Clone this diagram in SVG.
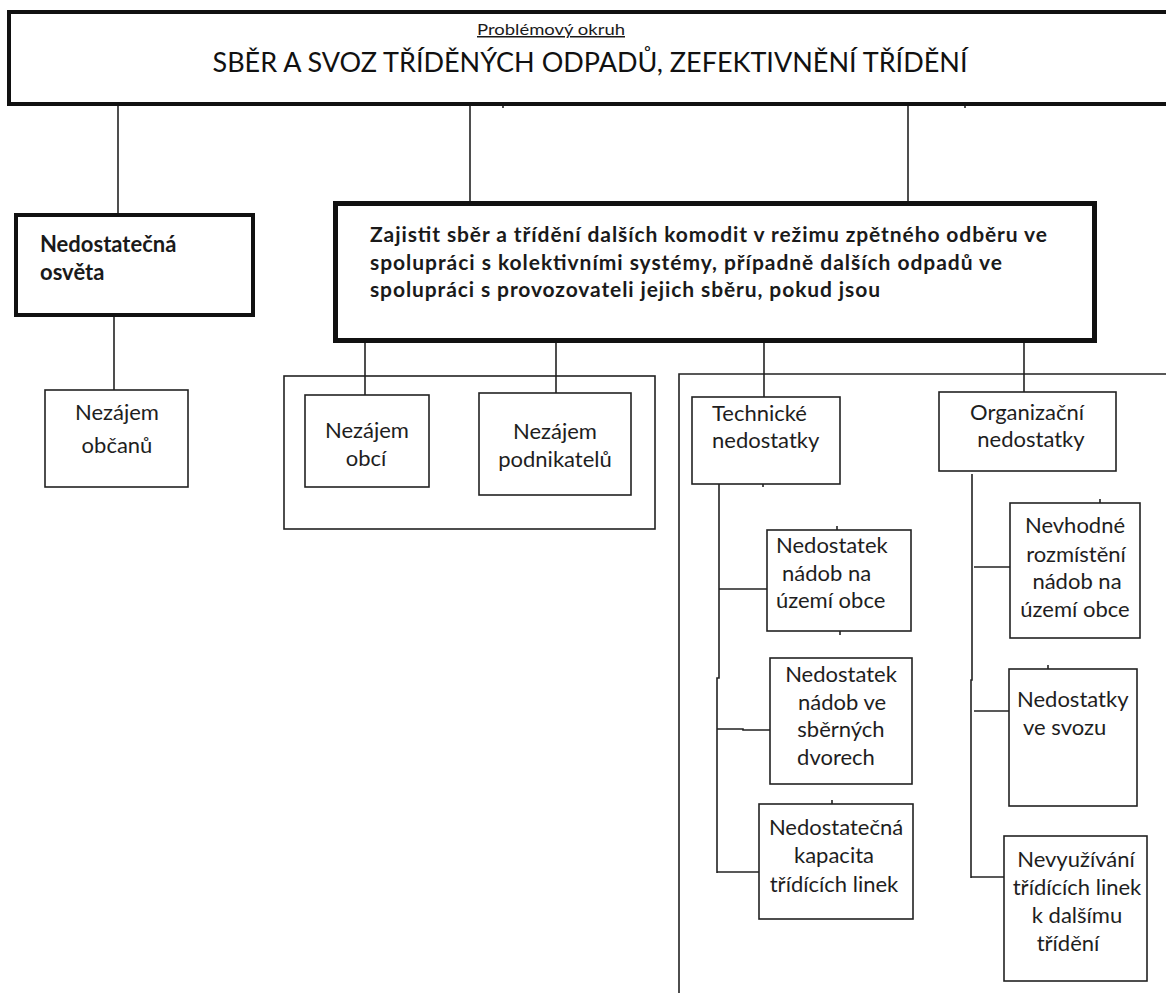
<svg xmlns="http://www.w3.org/2000/svg" width="1166" height="993" viewBox="0 0 1166 993">
<style>
  .bg { fill: #ffffff; }
  .thick { fill: #ffffff; stroke: #111111; stroke-width: 4; }
  .thicker { fill: #ffffff; stroke: #111111; stroke-width: 5; }
  .thin { fill: #ffffff; stroke: #222222; stroke-width: 1.6; }
  .frame { fill: none; stroke: #222222; stroke-width: 1.6; }
  .conn { fill: none; stroke: #222222; stroke-width: 1.6; }
  .lbl { font-family: Lato, "Open Sans", "Liberation Sans", sans-serif; font-size: 22px; fill: #1e1e1e; }
  .c { text-anchor: middle; }
  .bold { font-family: Lato, "Open Sans", "Liberation Sans", sans-serif; font-weight: bold; font-size: 21px; fill: #1a1a1a; }
  .title { font-family: Lato, "Open Sans", "Liberation Sans", sans-serif; font-size: 27px; fill: #111111; }
  .sub { font-family: Lato, "Open Sans", "Liberation Sans", sans-serif; font-size: 15px; fill: #1a1a1a; text-decoration: underline; }
</style>
<rect class="bg" x="0" y="0" width="1166" height="993"/>

<g id="frames">
  <rect class="frame" x="284" y="376" width="371" height="153"/>
  <path class="frame" d="M1170 374 H679 V995"/>
</g>

<g id="connectors">
  <path class="conn" d="M118 104 V213"/>
  <path class="conn" d="M470 104 V201"/>
  <path class="conn" d="M908 104 V202"/>
  <path class="conn" d="M114 317 V390"/>
  <path class="conn" d="M365 343 V395"/>
  <path class="conn" d="M556 343 V393"/>
  <path class="conn" d="M764 343 V397"/>
  <path class="conn" d="M1024 343 V392"/>
  <path class="conn" d="M719 484 V678 H717 V873"/>
  <path class="conn" d="M719 589 H767"/>
  <path class="conn" d="M717 729 H743 V730 H770"/>
  <path class="conn" d="M717 872 H759"/>
  <path class="conn" d="M972 474 V680 H971 V878"/>
  <path class="conn" d="M974 567 H1010"/>
  <path class="conn" d="M974 711 H1009"/>
  <path class="conn" d="M971 877 H1004"/>
  <path class="conn" d="M503 104 V108"/>
  <path class="conn" d="M965 104 V108"/>
  <path class="conn" d="M763 484 V487"/>
  <path class="conn" d="M837 526 V530"/>
  <path class="conn" d="M840 631 V635"/>
  <path class="conn" d="M832 800 V804"/>
  <path class="conn" d="M1100 499 V503"/>
  <path class="conn" d="M1048 665 V669"/>
</g>

<g id="node-top">
  <rect class="thick" x="9" y="12" width="1170" height="92"/>
  <text class="sub" x="551" y="35" text-anchor="middle" textLength="148" lengthAdjust="spacingAndGlyphs">Problémový okruh</text>
  <text class="title" x="590" y="72" text-anchor="middle" textLength="755" lengthAdjust="spacingAndGlyphs">SBĚR A SVOZ TŘÍDĚNÝCH ODPADŮ, ZEFEKTIVNĚNÍ TŘÍDĚNÍ</text>
</g>

<g id="node-osveta">
  <rect class="thick" x="16" y="215" width="237" height="100"/>
  <text class="bold" x="40" y="252" style="font-size:22px">Nedostatečná</text>
  <text class="bold" x="40" y="280" style="font-size:22px">osvěta</text>
</g>

<g id="node-goal">
  <rect class="thicker" x="335.5" y="203.5" width="759" height="137"/>
  <text class="bold" x="370" y="242" textLength="677">Zajistit sběr a třídění dalších komodit v režimu zpětného odběru ve</text>
  <text class="bold" x="370" y="270" textLength="632">spolupráci s kolektivními systémy, případně dalších odpadů ve</text>
  <text class="bold" x="370" y="297" textLength="510">spolupráci s provozovateli jejich sběru, pokud jsou</text>
</g>

<g id="node-obcanu">
  <rect class="thin" x="45" y="390" width="143" height="97"/>
  <text class="lbl c" x="117" y="420">Nezájem</text>
  <text class="lbl c" x="117" y="453">občanů</text>
</g>

<g id="node-obci">
  <rect class="thin" x="305" y="395" width="124" height="92"/>
  <text class="lbl c" x="367" y="438">Nezájem</text>
  <text class="lbl c" x="366" y="466">obcí</text>
</g>

<g id="node-podnikatelu">
  <rect class="thin" x="479" y="393" width="152" height="102"/>
  <text class="lbl c" x="555" y="439">Nezájem</text>
  <text class="lbl c" x="555" y="467">podnikatelů</text>
</g>

<g id="node-technicke">
  <rect class="thin" x="692" y="397" width="148" height="87"/>
  <text class="lbl" x="712" y="421">Technické</text>
  <text class="lbl" x="712" y="448">nedostatky</text>
</g>

<g id="node-organizacni">
  <rect class="thin" x="939" y="392" width="177" height="79"/>
  <text class="lbl c" x="1027" y="420">Organizační</text>
  <text class="lbl c" x="1031" y="447">nedostatky</text>
</g>

<g id="node-t1">
  <rect class="thin" x="767" y="530" width="144" height="101"/>
  <text class="lbl" x="776" y="553">Nedostatek</text>
  <text class="lbl" x="782" y="581">nádob na</text>
  <text class="lbl" x="776" y="608">území obce</text>
</g>

<g id="node-t2">
  <rect class="thin" x="770" y="658" width="142" height="126"/>
  <text class="lbl c" x="841" y="682">Nedostatek</text>
  <text class="lbl c" x="842" y="710">nádob ve</text>
  <text class="lbl c" x="841" y="737">sběrných</text>
  <text class="lbl c" x="836" y="765">dvorech</text>
</g>

<g id="node-t3">
  <rect class="thin" x="759" y="804" width="154" height="115"/>
  <text class="lbl c" x="836" y="835">Nedostatečná</text>
  <text class="lbl c" x="834" y="863">kapacita</text>
  <text class="lbl c" x="834" y="892">třídících linek</text>
</g>

<g id="node-o1">
  <rect class="thin" x="1010" y="503" width="130" height="135"/>
  <text class="lbl c" x="1075" y="533">Nevhodné</text>
  <text class="lbl c" x="1076" y="562">rozmístění</text>
  <text class="lbl c" x="1077" y="589">nádob na</text>
  <text class="lbl c" x="1075" y="617">území obce</text>
</g>

<g id="node-o2">
  <rect class="thin" x="1009" y="669" width="128" height="137"/>
  <text class="lbl" x="1017" y="707">Nedostatky</text>
  <text class="lbl" x="1023" y="735">ve svozu</text>
</g>

<g id="node-o3">
  <rect class="thin" x="1004" y="836" width="143" height="145"/>
  <text class="lbl c" x="1076" y="867">Nevyužívání</text>
  <text class="lbl c" x="1077" y="895">třídících linek</text>
  <text class="lbl c" x="1077" y="923">k dalšímu</text>
  <text class="lbl c" x="1068" y="951">třídění</text>
</g>
</svg>
